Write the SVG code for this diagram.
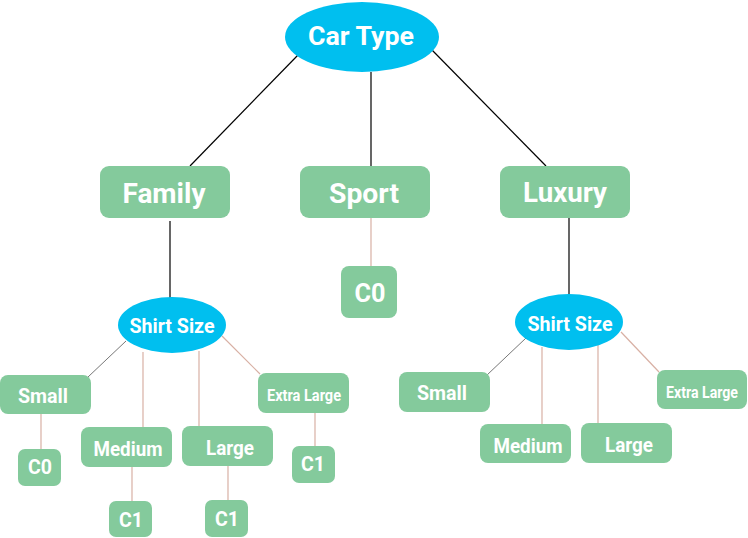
<svg xmlns="http://www.w3.org/2000/svg" width="748" height="538" viewBox="0 0 748 538">
<style>
.box{fill:#84CA9C}
.ell{fill:#00BFEF}
text{fill:#fff;font-family:Roboto,"Open Sans","Liberation Sans",sans-serif;font-weight:700;text-anchor:middle}
.blk{stroke:#000;stroke-width:1.2;fill:none}
.gry{stroke:#777;stroke-width:1;fill:none}
.pnk{stroke:#D8B0A4;stroke-width:1.2;fill:none}
</style>
<rect width="748" height="538" fill="#fff"/>
<g id="connectors">
<line class="blk" x1="298" y1="55" x2="190" y2="166"/>
<line class="blk" x1="371" y1="72" x2="371" y2="166"/>
<line class="blk" x1="432" y1="50" x2="546" y2="166"/>
<line class="blk" x1="170" y1="221" x2="170" y2="298"/>
<line class="pnk" x1="371" y1="218" x2="371" y2="266"/>
<line class="blk" x1="569" y1="218" x2="569" y2="295"/>
<line class="gry" x1="126" y1="341" x2="88" y2="377"/>
<line class="pnk" x1="143" y1="352" x2="143" y2="427"/>
<line class="pnk" x1="199" y1="351" x2="199" y2="426"/>
<line class="pnk" x1="222" y1="336" x2="260" y2="374"/>
<line class="pnk" x1="41" y1="414" x2="41" y2="449"/>
<line class="pnk" x1="132" y1="467" x2="132" y2="501"/>
<line class="pnk" x1="228" y1="466" x2="228" y2="500"/>
<line class="pnk" x1="315" y1="413" x2="315" y2="446"/>
<line class="gry" x1="526" y1="338" x2="487" y2="375"/>
<line class="pnk" x1="542" y1="347" x2="542" y2="424"/>
<line class="pnk" x1="598" y1="344" x2="598" y2="423"/>
<line class="pnk" x1="621" y1="332" x2="659" y2="372"/>
</g>
<g id="car-type"><ellipse class="ell" cx="362" cy="37" rx="77" ry="35"/><text x="361" y="45" font-size="25" textLength="106" lengthAdjust="spacingAndGlyphs">Car Type</text></g>
<g id="family"><rect class="box" x="100" y="166" width="130" height="52" rx="9"/><text x="164" y="203" font-size="27" textLength="83" lengthAdjust="spacingAndGlyphs">Family</text></g>
<g id="sport"><rect class="box" x="300" y="166" width="130" height="52" rx="9"/><text x="364" y="203" font-size="27" textLength="70" lengthAdjust="spacingAndGlyphs">Sport</text></g>
<g id="luxury"><rect class="box" x="500" y="166" width="130" height="52" rx="9"/><text x="565" y="202" font-size="27" textLength="84" lengthAdjust="spacingAndGlyphs">Luxury</text></g>
<g id="sport-c0"><rect class="box" x="341" y="266" width="56" height="52" rx="8"/><text x="370" y="302" font-size="25" textLength="31" lengthAdjust="spacingAndGlyphs">C0</text></g>
<g id="shirt-left"><ellipse class="ell" cx="172" cy="325" rx="54" ry="28"/><text x="172" y="333" font-size="20" textLength="85" lengthAdjust="spacingAndGlyphs">Shirt Size</text></g>
<g id="shirt-right"><ellipse class="ell" cx="569" cy="322" rx="54" ry="28"/><text x="570" y="331" font-size="20" textLength="85" lengthAdjust="spacingAndGlyphs">Shirt Size</text></g>
<g id="small-left"><rect class="box" x="0" y="375" width="91" height="39" rx="8"/><text x="43" y="403" font-size="20" textLength="50" lengthAdjust="spacingAndGlyphs">Small</text></g>
<g id="medium-left"><rect class="box" x="81" y="427" width="91" height="40" rx="8"/><text x="128" y="456" font-size="20" textLength="69" lengthAdjust="spacingAndGlyphs">Medium</text></g>
<g id="large-left"><rect class="box" x="182" y="426" width="91" height="40" rx="8"/><text x="230" y="455" font-size="20" textLength="48" lengthAdjust="spacingAndGlyphs">Large</text></g>
<g id="xl-left"><rect class="box" x="258" y="373" width="91" height="40" rx="8"/><text x="304" y="401" font-size="17" textLength="74" lengthAdjust="spacingAndGlyphs">Extra Large</text></g>
<g id="c0-left"><rect class="box" x="18" y="449" width="43" height="37" rx="7"/><text x="40" y="474" font-size="20" textLength="24" lengthAdjust="spacingAndGlyphs">C0</text></g>
<g id="c1-medium"><rect class="box" x="109" y="501" width="43" height="36" rx="7"/><text x="131" y="527" font-size="20" textLength="24" lengthAdjust="spacingAndGlyphs">C1</text></g>
<g id="c1-large"><rect class="box" x="205" y="500" width="43" height="37" rx="7"/><text x="227" y="526" font-size="20" textLength="24" lengthAdjust="spacingAndGlyphs">C1</text></g>
<g id="c1-xl"><rect class="box" x="292" y="446" width="43" height="37" rx="7"/><text x="313" y="471" font-size="20" textLength="24" lengthAdjust="spacingAndGlyphs">C1</text></g>
<g id="small-right"><rect class="box" x="399" y="372" width="91" height="40" rx="8"/><text x="442" y="400" font-size="20" textLength="50" lengthAdjust="spacingAndGlyphs">Small</text></g>
<g id="medium-right"><rect class="box" x="480" y="424" width="91" height="39" rx="8"/><text x="528" y="453" font-size="20" textLength="69" lengthAdjust="spacingAndGlyphs">Medium</text></g>
<g id="large-right"><rect class="box" x="581" y="423" width="91" height="40" rx="8"/><text x="629" y="452" font-size="20" textLength="48" lengthAdjust="spacingAndGlyphs">Large</text></g>
<g id="xl-right"><rect class="box" x="657" y="370" width="90" height="39" rx="8"/><text x="702" y="398" font-size="17" textLength="72" lengthAdjust="spacingAndGlyphs">Extra Large</text></g>
</svg>
